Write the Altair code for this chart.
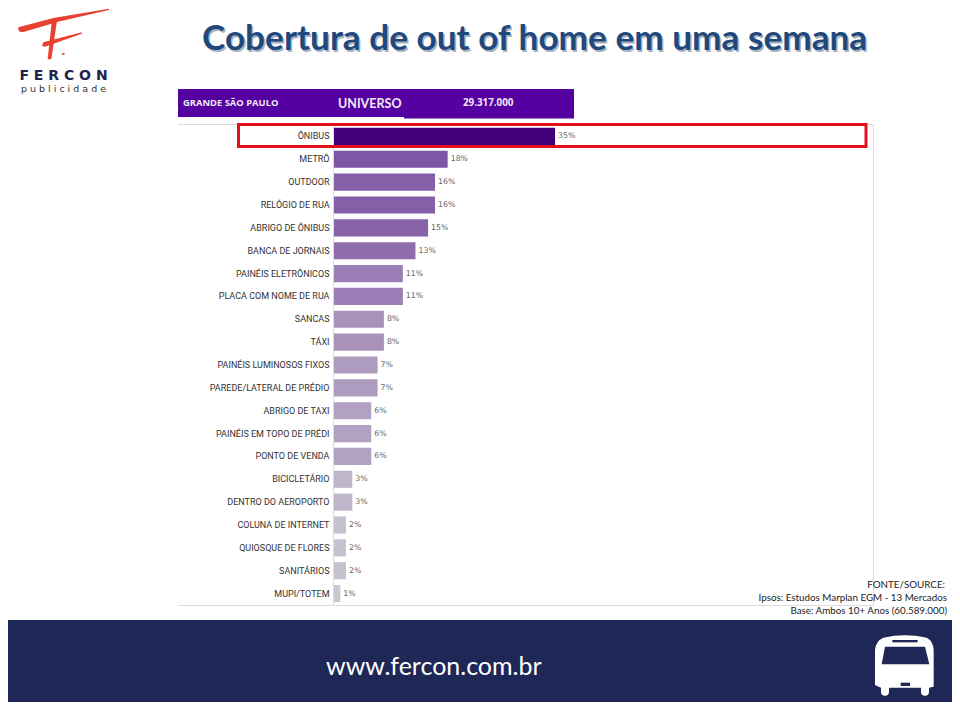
import re
import altair as alt
import pandas as pd

categories = ["ÔNIBUS", "METRÔ", "OUTDOOR", "RELÓGIO DE RUA", "ABRIGO DE ÔNIBUS", "BANCA DE JORNAIS",
              "PAINÉIS ELETRÔNICOS", "PLACA COM NOME DE RUA", "SANCAS", "TÁXI", "PAINÉIS LUMINOSOS FIXOS",
              "PAREDE/LATERAL DE PRÉDIO", "ABRIGO DE TAXI", "PAINÉIS EM TOPO DE PRÉDI", "PONTO DE VENDA",
              "BICICLETÁRIO", "DENTRO DO AEROPORTO", "COLUNA DE INTERNET", "QUIOSQUE DE FLORES", "SANITÁRIOS",
              "MUPI/TOTEM"]
values = [35, 18, 16, 16, 14.9, 12.9, 10.9, 10.9, 7.9, 7.9, 6.9, 6.9, 5.9, 5.9, 5.9, 2.9, 2.9, 1.9, 1.9, 1.9, 1]
labels = ["35%", "18%", "16%", "16%", "15%", "13%", "11%", "11%", "8%", "8%", "7%", "7%", "6%", "6%", "6%",
          "3%", "3%", "2%", "2%", "2%", "1%"]
colors = ["#42007A", "#7F55A6", "#8460A8", "#8460A8", "#8963A9", "#8F6DAD", "#9B7EB6", "#9B7EB6", "#A892BC",
          "#A892BC", "#AE9BC0", "#AE9BC0", "#B2A1C3", "#B2A1C3", "#B2A1C3", "#BFB6CC", "#BFB6CC", "#C5C1CE",
          "#C5C1CE", "#C5C1CE", "#C9C7CF"]
title_text = "Cobertura de out of home em uma semana"
source_lines = ["FONTE/SOURCE:", "Ipsos: Estudos Marplan EGM - 13 Mercados", "Base: Ambos 10+ Anos (60.589.000)"]

OX, OY = 334, 125  # plot origin on the page
W, H = 540, 480
one = alt.Data(values=[{"k": 0}])


def rect(x0, y0, x1, y1, color):
    return alt.Chart(one).mark_rect(color=color).encode(
        x=alt.value(x0 - OX), x2=alt.value(x1 - OX), y=alt.value(y0 - OY), y2=alt.value(y1 - OY))


def text(s, x, y, size, color, font, weight="normal", align="left", **kw):
    return alt.Chart(one).mark_text(text=s, fontSize=size, color=color, font=font, fontWeight=weight,
                                    align=align, baseline="middle", **kw).encode(
        x=alt.value(x - OX), y=alt.value(y - OY))


def shape(path, zx, zy, zoom, cx, cy, half, color):
    """Draw an SVG path given in zoomed pixel units, as one symbol centred on (cx, cy)."""
    nums = iter(range(10 ** 6))

    def conv(m):
        v = float(m.group())
        i = next(nums)
        px = (zx + v / zoom - cx) if i % 2 == 0 else (zy + v / zoom - cy)
        return f"{px / half:.4f}"
    norm = re.sub(r"-?\d+\.?\d*", conv, path)
    return alt.Chart(one).mark_point(shape=norm, size=(2 * half) ** 2, filled=True, color=color, opacity=1,
                                     strokeWidth=0).encode(x=alt.value(cx - OX), y=alt.value(cy - OY))


df = pd.DataFrame({"cat": categories, "v": values, "lab": labels, "col": colors})
y_enc = alt.Y("cat:N", sort=categories, title=None,
              scale=alt.Scale(paddingInner=0.25, paddingOuter=0.125),
              axis=alt.Axis(ticks=False, domain=False, labelFont="Roboto", labelFontSize=9,
                            labelColor="#333333", labelPadding=5, labelLimit=200, grid=False))
x_enc = alt.X("v:Q", title=None, scale=alt.Scale(domain=[0, 85.5], nice=False), axis=None)

bars = alt.Chart(df).mark_bar().encode(x=x_enc, y=y_enc, color=alt.Color("col:N", scale=None))
bar_labels = alt.Chart(df).mark_text(align="left", dx=3, font="DejaVu Sans", fontSize=7.8, color="#666666").encode(
    x=x_enc, y=y_enc, text="lab:N")

NAVY = "#1F2756"
RED = "#E8412F"
logo = [
    shape("M25 82 L130 54 L297 26 L297 30 L150 64 L40 96 Q28 98 25 90 Z", 10, 0, 3, 63, 35, 50, RED),
    shape("M126 58 L142 55 L124 178 L113 178 Z", 10, 0, 3, 63, 35, 50, RED),
    shape("M100 127 L215 97 L215 101 L105 140 L96 138 Z", 10, 0, 3, 63, 35, 50, RED),
    shape("M155 162 Q160 156 165 162 Q160 168 155 162 Z", 10, 0, 3, 63, 35, 50, RED),
    text("F E R C O N", 63.5, 75.5, 14, "#1E2450", "DejaVu Sans", weight="bold", align="center"),
    text("p u b l i c i d a d e", 63.5, 89, 9.5, "#333333", "DejaVu Sans", align="center"),
]
bus = [
    shape("M30 180 L30 75 Q32 48 55 38 Q120 24 185 38 Q205 48 206 75 L206 185 L192 188 L192 200 "
          "Q192 212 180 212 Q168 212 168 200 L168 188 L72 188 L72 200 Q72 212 60 212 Q48 212 48 200 L48 188 Z",
          865, 625, 3, 905, 665, 40, "#FFFFFF"),
    shape("M60 65 L180 65 L193 118 L50 118 Z", 865, 625, 3, 905, 665, 40, NAVY),
    shape("M82 45 L158 45 L158 52 L82 52 Z", 865, 625, 3, 905, 665, 40, NAVY),
    shape("M107 173 L135 173 L135 183 L107 183 Z", 865, 625, 3, 905, 665, 40, NAVY),
]

GRID = "#DCDCDC"
layers = [
    rect(178, 124, 874, 125, GRID),
    rect(178, 605, 874, 606, GRID),
    rect(873, 124, 874, 606, GRID),
    rect(333, 124, 334, 606, GRID),
    rect(178, 89, 574, 117, "#5500A0"),
    rect(404, 117, 574, 118.5, "#5500A0"),
    text("GRANDE SÃO PAULO", 183, 103, 9.4, "#F0E8F8", "Open Sans", weight="bold"),
    text("UNIVERSO", 338, 103.5, 12.5, "#F0E8F8", "Lato", weight="bold"),
    text("29.317.000", 463, 103, 9.8, "#F0E8F8", "Open Sans", weight="bold"),
    bars,
    bar_labels,
    alt.Chart(one).mark_rect(fillOpacity=0, stroke="#E3101A", strokeWidth=3).encode(
        x=alt.value(238.5 - OX), x2=alt.value(866 - OX), y=alt.value(124.5 - OY), y2=alt.value(146.5 - OY)),
    text(title_text, 203.5, 40.5, 35.2, "#A8B2C0", "Lato", weight="bold"),
    text(title_text, 202, 39, 35.2, "#1F497D", "Lato", weight="bold"),
    rect(8, 620, 952, 702, NAVY),
    text("www.fercon.com.br", 326, 667, 25, "#FFFFFF", "Lato"),
    text(source_lines[0], 945, 585, 9.8, "#222222", "Lato", align="right"),
    text(source_lines[1], 947, 598, 9.8, "#222222", "Lato", align="right"),
    text(source_lines[2], 947, 610.5, 9.8, "#222222", "Lato", align="right"),
] + logo + bus

chart = alt.layer(*layers).properties(
    width=W, height=H,
    autosize=alt.AutoSizeParams(type="none"),
    padding={"left": OX - 8, "top": OY - 8, "right": 952 - OX - W, "bottom": 702 - OY - H},
    background="#FFFFFF",
).resolve_scale(color="independent").configure_view(stroke=None)

chart.save("out.html", embed_options={"renderer": "svg", "actions": False})
